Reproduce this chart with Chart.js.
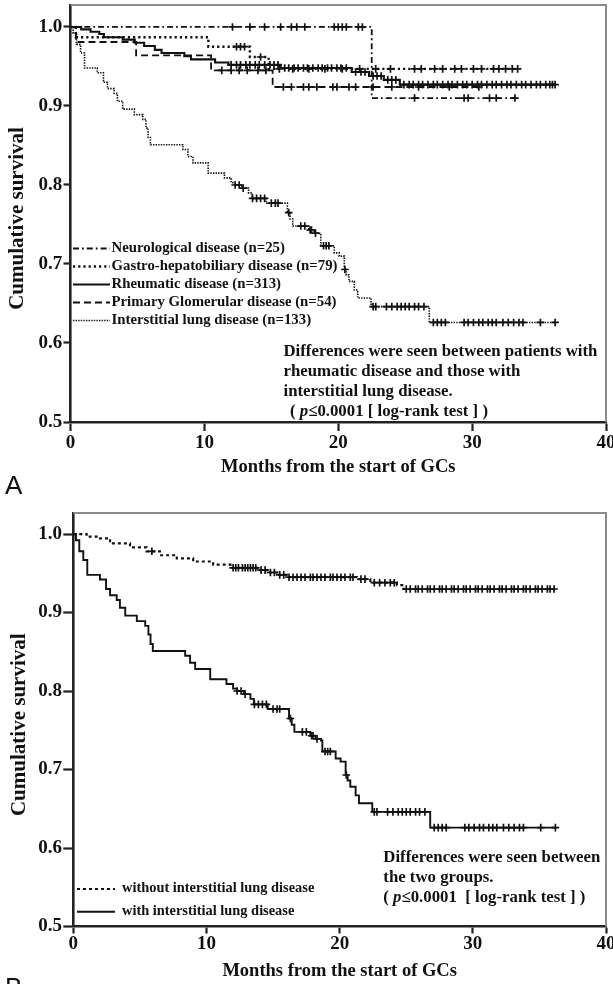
<!DOCTYPE html>
<html><head><meta charset="utf-8">
<script src="https://cdn.jsdelivr.net/npm/chart.js@4.4.1/dist/chart.umd.min.js"></script>
<style>
html,body{margin:0;padding:0;background:#fff;width:613px;height:984px;overflow:hidden;position:relative;}
canvas{position:absolute;left:0;}
#cA{top:0}
#cB{top:500px}
.lbl{position:absolute;font-family:"Liberation Sans",Arial,sans-serif;font-size:26px;line-height:26px;color:#111;}
</style></head><body>
<canvas id="cA" width="613" height="500"></canvas>
<canvas id="cB" width="613" height="484"></canvas>
<div class="lbl" style="left:5px;top:471.5px">A</div>
<div class="lbl" style="left:5px;top:973.5px">B</div>
<script>
// ---------- data ----------
const xTicks = [0, 10, 20, 30, 40];
const yTicks = [0.5, 0.6, 0.7, 0.8, 0.9, 1.0];
const xTitle = 'Months from the start of GCs';
const yTitle = 'Cumulative survival';

// Panel A
const neuroMonths = [0, 22.5, 33.2];
const neuroSurv   = [1.0, 0.91, 0.91];
const neuroCensor = [12.1, 13.4, 14.5, 15.7, 16.5, 16.9, 17.5, 19.7, 20.0, 20.3, 20.6, 21.5, 21.8, 25.7, 29.4, 29.7, 31.3, 31.8, 33.2];

const gastroMonths = [0, 0.4, 10.3, 13.4, 14.8, 33.4];
const gastroSurv   = [1.0, 0.987, 0.975, 0.962, 0.947, 0.947];
const gastroCensor = [12.4, 12.7, 13.0, 14.2, 15.6, 16.6, 17.8, 19.0, 20.3, 21.6, 22.8, 23.9, 25.7, 26.2, 27.2, 27.8, 28.7, 29.2, 30.1, 30.7, 31.6, 32.0, 32.5, 33.0, 33.4];

const rheumMonths = [0, 0.8, 1.5, 2.15, 2.5, 3.9, 4.8, 5.5, 6.3, 6.8, 8.5, 9.0, 10.8, 11.8, 15.7, 21.0, 22.3, 23.4, 24.6, 36.2];
const rheumSurv   = [1.0, 0.997, 0.994, 0.991, 0.987, 0.984, 0.980, 0.976, 0.971, 0.967, 0.963, 0.959, 0.955, 0.952, 0.948, 0.943, 0.938, 0.933, 0.927, 0.927];
const rheumCensor = [12.0, 12.4, 12.7, 13.1, 13.4, 13.8, 14.1, 14.5, 14.9, 15.2, 15.5, 16.0, 16.3, 16.7, 17.0, 17.4, 17.7, 18.1, 18.5, 18.8, 19.2, 19.5, 19.9, 20.2, 20.6, 21.3, 21.7, 22.0, 22.6, 22.9, 23.2, 23.7, 24.0, 24.3, 24.9, 25.3, 25.6, 26.0, 26.3, 26.7, 27.1, 27.4, 27.8, 28.2, 28.5, 28.9, 29.3, 29.6, 30.0, 30.4, 30.7, 31.1, 31.5, 31.8, 32.2, 32.6, 32.9, 33.3, 33.7, 34.0, 34.4, 34.8, 35.1, 35.5, 35.8, 36.0, 36.2];

const glomMonths = [0, 0.4, 4.9, 10.5, 15.1, 30.5];
const glomSurv   = [1.0, 0.981, 0.964, 0.945, 0.924, 0.924];
const glomCensor = [11.3, 12.0, 12.6, 13.2, 14.0, 14.6, 15.9, 16.5, 17.4, 17.8, 18.4, 19.6, 19.9, 20.8, 21.3, 22.6, 24.0, 26.0, 28.3, 30.5];

// Interstitial lung disease (same group in A and B)
const ildMonths = [0, 0.2, 0.45, 0.75, 1.05, 2.0, 2.46, 2.76, 3.26, 3.5, 3.9, 4.77, 5.4, 5.64, 5.8, 5.97, 8.4, 8.77, 9.15, 10.28, 11.5, 12.0, 12.3, 12.8, 13.3, 13.56, 14.6, 16.2, 16.4, 16.6, 17.8, 18.2, 18.6, 18.7, 19.7, 20.07, 20.45, 20.6, 20.8, 21.2, 21.45, 22.45, 26.8, 36.2];
const ildSurv   = [1.0, 0.992, 0.978, 0.967, 0.948, 0.942, 0.930, 0.922, 0.916, 0.906, 0.896, 0.889, 0.883, 0.872, 0.860, 0.851, 0.845, 0.836, 0.828, 0.815, 0.809, 0.803, 0.800, 0.796, 0.790, 0.783, 0.777, 0.765, 0.757, 0.748, 0.743, 0.739, 0.737, 0.723, 0.714, 0.710, 0.693, 0.686, 0.678, 0.667, 0.657, 0.646, 0.626, 0.626];
const ildCensor = [12.3, 12.6, 12.9, 13.6, 13.9, 14.2, 14.5, 15.0, 15.3, 15.5, 16.3, 17.2, 17.5, 17.9, 18.0, 18.3, 18.9, 19.1, 19.3, 20.5, 22.6, 22.8, 23.6, 24.0, 24.4, 24.7, 25.0, 25.3, 25.7, 26.0, 26.4, 27.1, 27.4, 27.7, 28.0, 29.4, 29.7, 30.1, 30.5, 30.8, 31.2, 31.5, 31.8, 32.3, 32.7, 33.1, 33.5, 33.8, 35.1, 36.2];

// Panel B: without interstitial lung disease
const noIldMonths = [0, 1.0, 2.0, 2.76, 4.26, 5.5, 6.5, 7.77, 9.0, 10.5, 11.8, 13.8, 14.55, 15.3, 16.05, 21.3, 22.3, 24.3, 24.8, 36.1];
const noIldSurv   = [1.0, 0.9966, 0.9945, 0.988, 0.983, 0.978, 0.973, 0.969, 0.965, 0.961, 0.957, 0.954, 0.951, 0.948, 0.945, 0.9426, 0.938, 0.935, 0.930, 0.930];
const noIldCensor = [5.9, 12.0, 12.2, 12.4, 12.7, 12.9, 13.1, 13.3, 13.5, 13.7, 14.1, 14.4, 14.8, 15.1, 15.5, 15.8, 16.2, 16.5, 16.8, 17.1, 17.4, 17.8, 18.0, 18.3, 18.6, 18.9, 19.3, 19.5, 19.8, 20.1, 20.4, 20.8, 21.0, 21.6, 21.9, 22.6, 23.0, 23.4, 23.8, 24.1, 25.0, 25.3, 25.7, 25.9, 26.2, 26.6, 26.8, 27.1, 27.5, 27.7, 28.0, 28.4, 28.6, 28.9, 29.3, 29.5, 29.8, 30.2, 30.4, 30.7, 31.1, 31.3, 31.6, 32.0, 32.2, 32.5, 32.9, 33.1, 33.4, 33.8, 34.0, 34.3, 34.7, 34.9, 35.2, 35.6, 35.8, 36.1];

const legendA = ['Neurological disease (n=25)', 'Gastro-hepatobiliary disease (n=79)', 'Rheumatic disease (n=313)', 'Primary Glomerular disease (n=54)', 'Interstitial lung disease (n=133)'];
const noteA = ['Differences were seen between patients with', 'rheumatic disease and those with', 'interstitial lung disease.'];
const pLineA = ['( ', 'p', '\u22640.0001 [ log-rank test ] )'];
const legendB = ['without interstitial lung disease', 'with interstitial lung disease'];
const noteB = ['Differences were seen between', 'the two groups.'];
const pLineB = ['( ', 'p', '\u22640.0001  [ log-rank test ] )'];

// ---------- styles ----------
const SERIF = '"Liberation Serif", "Times New Roman", serif';
const INK = '#111111';
const AX = '#222222';
const styleA = [
  {dash: [6, 3, 1.8, 3], width: 1.8},
  {dash: [2.2, 3], width: 2.4},
  {dash: [], width: 2.1},
  {dash: [7, 4], width: 1.8},
  {dash: [1.4, 1.2], width: 1.6}
];
const styleB = [
  {dash: [3, 3], width: 2.2},
  {dash: [], width: 1.9}
];

function stepAt(months, surv, t) {
  let v = surv[0];
  for (let i = 0; i < months.length; i++) if (months[i] <= t) v = surv[i];
  return v;
}

function buildDatasets(groups) {
  const ds = [];
  groups.forEach(g => {
    ds.push({
      data: g.months.map((m, i) => ({x: m, y: g.surv[i]})),
      stepped: true, showLine: true, pointRadius: 0, pointHoverRadius: 0,
      borderColor: INK, borderWidth: g.style.width, borderDash: g.style.dash,
      fill: false, tension: 0
    });
    ds.push({
      data: g.censor.map(t => ({x: t, y: stepAt(g.months, g.surv, t)})),
      showLine: false, pointStyle: 'cross', pointRadius: 3.8, pointHoverRadius: 3.8,
      pointBorderWidth: 1.7, borderColor: INK, backgroundColor: INK
    });
  });
  return ds;
}

function drawPLine(ctx, x, y, parts, size) {
  ctx.font = 'bold ' + size + 'px ' + SERIF;
  ctx.fillText(parts[0], x, y); x += ctx.measureText(parts[0]).width;
  ctx.font = 'italic bold ' + size + 'px ' + SERIF;
  ctx.fillText(parts[1], x, y); x += ctx.measureText(parts[1]).width;
  ctx.font = 'bold ' + size + 'px ' + SERIF;
  ctx.fillText(parts[2], x, y);
}

function makeChart(id, H, geo, groups, extras) {
  const framePlugin = {
    id: 'frame',
    beforeDatasetsDraw(chart) {
      const a = chart.chartArea, ctx = chart.ctx;
      ctx.save();
      ctx.strokeStyle = '#8c8c8c'; ctx.lineWidth = 2;
      ctx.beginPath(); ctx.moveTo(a.left, a.top); ctx.lineTo(a.right, a.top); ctx.lineTo(a.right, a.bottom); ctx.stroke();
      ctx.restore();
    },
    afterDraw(chart) {
      const ctx = chart.ctx, a = chart.chartArea;
      // rotated y-axis title
      ctx.save();
      ctx.translate(geo.yTitleX, (a.top + a.bottom) / 2 + geo.yTitleShift);
      ctx.rotate(-Math.PI / 2);
      ctx.font = 'bold 21px ' + SERIF; ctx.fillStyle = INK;
      ctx.textAlign = 'center'; ctx.textBaseline = 'middle';
      ctx.fillText(yTitle, 0, 0);
      ctx.restore();
      extras(chart);
    }
  };
  return new Chart(document.getElementById(id), {
    type: 'line',
    data: {datasets: buildDatasets(groups)},
    options: {
      responsive: false, animation: false, devicePixelRatio: 1,
      layout: {autoPadding: false, padding: {top: geo.top, left: 0, right: 613 - geo.right, bottom: 0}},
      plugins: {legend: {display: false}, tooltip: {enabled: false}},
      events: [],
      scales: {
        x: {
          type: 'linear', position: 'bottom', min: 0, max: 40,
          afterFit(s) { s.height = H - geo.bottom; s.paddingLeft = 0; s.paddingRight = 0; },
          afterBuildTicks(s) { s.ticks = xTicks.map(v => ({value: v})); },
          grid: {drawOnChartArea: false, drawTicks: true, tickLength: geo.xTickLen, tickWidth: 2.2, tickColor: AX},
          border: {display: true, color: AX, width: 2.6},
          ticks: {font: {family: SERIF, size: 19, weight: 'bold'}, color: INK, padding: geo.xTickPad, maxRotation: 0, autoSkip: false, callback: v => String(v)},
          title: {display: true, text: xTitle, font: {family: SERIF, size: 18.5, weight: 'bold'}, color: INK, padding: {top: 0, bottom: geo.xTitlePad}}
        },
        y: {
          type: 'linear', position: 'left', min: 0.5, max: geo.ymax,
          afterFit(s) { s.width = geo.left; s.paddingTop = 0; s.paddingBottom = 0; },
          afterBuildTicks(s) { s.ticks = yTicks.map(v => ({value: v})); },
          grid: {drawOnChartArea: false, drawTicks: true, tickLength: geo.yTickLen, tickWidth: 2.2, tickColor: AX},
          border: {display: true, color: AX, width: 2.6},
          ticks: {font: {family: SERIF, size: 19, weight: 'bold'}, color: INK, padding: 1.3, callback: v => Number(v).toFixed(1)},
          title: {display: false}
        }
      }
    },
    plugins: [framePlugin]
  });
}

// ---------- Panel A ----------
const groupsA = [
  {months: neuroMonths, surv: neuroSurv, censor: neuroCensor, style: styleA[0]},
  {months: gastroMonths, surv: gastroSurv, censor: gastroCensor, style: styleA[1]},
  {months: rheumMonths, surv: rheumSurv, censor: rheumCensor, style: styleA[2]},
  {months: glomMonths, surv: glomSurv, censor: glomCensor, style: styleA[3]},
  {months: ildMonths, surv: ildSurv, censor: ildCensor, style: styleA[4]}
];
makeChart('cA', 500,
  {left: 70.5, right: 606, top: 5, bottom: 422, ymax: 1.0278, xTickLen: 9, xTickPad: 0.4, yTickLen: 7, xTitlePad: 21.4, yTitleX: 18, yTitleShift: 5},
  groupsA,
  chart => {
    const ctx = chart.ctx;
    ctx.save();
    ctx.textAlign = 'left';
    legendA.forEach((label, i) => {
      const y = 248.5 + i * 18;
      ctx.strokeStyle = INK; ctx.lineWidth = styleA[i].width; ctx.setLineDash(styleA[i].dash);
      ctx.beginPath(); ctx.moveTo(73, y); ctx.lineTo(110, y); ctx.stroke();
      ctx.setLineDash([]);
      ctx.fillStyle = INK; ctx.font = 'bold 14.8px ' + SERIF; ctx.textBaseline = 'middle';
      ctx.fillText(label, 111.5, y - 0.5);
    });
    ctx.textBaseline = 'alphabetic';
    ctx.font = 'bold 16.8px ' + SERIF;
    noteA.forEach((t, i) => ctx.fillText(t, 283.5, 355.5 + i * 20));
    drawPLine(ctx, 290, 415.5, pLineA, 16.8);
    ctx.restore();
  });

// ---------- Panel B ----------
const groupsB = [
  {months: noIldMonths, surv: noIldSurv, censor: noIldCensor, style: styleB[0]},
  {months: ildMonths, surv: ildSurv, censor: ildCensor, style: styleB[1]}
];
makeChart('cB', 484,
  {left: 73.3, right: 606, top: 13, bottom: 426.5, ymax: 1.0268, xTickLen: 7, xTickPad: -1, yTickLen: 10, xTitlePad: 1.9, yTitleX: 19.5, yTitleShift: 5},
  groupsB,
  chart => {
    const ctx = chart.ctx;
    ctx.save();
    ctx.textAlign = 'left';
    const ys = [389, 411.7];
    legendB.forEach((label, i) => {
      ctx.strokeStyle = INK; ctx.lineWidth = styleB[i].width; ctx.setLineDash(styleB[i].dash);
      ctx.beginPath(); ctx.moveTo(77, ys[i]); ctx.lineTo(115, ys[i]); ctx.stroke();
      ctx.setLineDash([]);
      ctx.fillStyle = INK; ctx.font = 'bold 14.4px ' + SERIF; ctx.textBaseline = 'alphabetic';
      ctx.fillText(label, 122, ys[i] + 3.2);
    });
    ctx.font = 'bold 16.8px ' + SERIF;
    noteB.forEach((t, i) => ctx.fillText(t, 383.3, 361.5 + i * 20));
    drawPLine(ctx, 383.3, 401.5, pLineB, 16.8);
    ctx.restore();
  });
</script>
</body></html>
